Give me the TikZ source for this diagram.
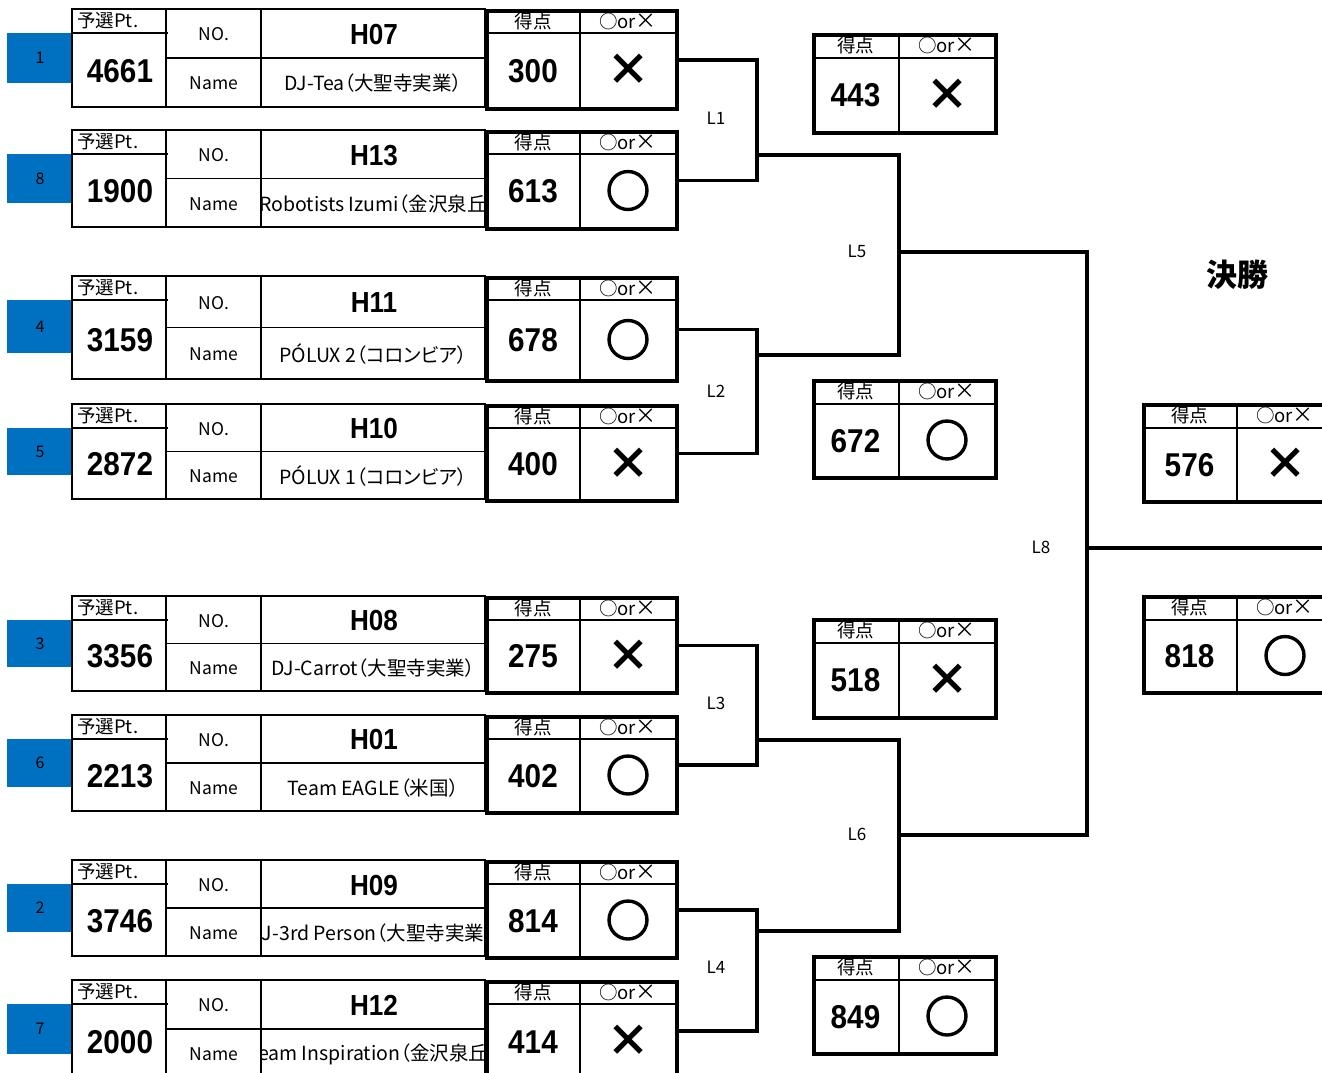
\documentclass[tikz,border=0pt]{standalone}
\usepackage{fontspec}
\setmainfont{Noto Sans CJK JP}[CharacterWidth=AlternateProportional]
\newfontfamily\numf{Liberation Sans}[FakeStretch=0.9]
\newfontfamily\markf{Noto Sans CJK JP}[FakeBold=4]
\definecolor{seedblue}{HTML}{0070C0}
\newcommand\mO{{\markf ○}}
\newcommand\mX{{\bfseries ×}}
\newcommand\okhead{{\fontsize{18.5}{18.5}\selectfont ○}or{\fontsize{21}{21}\selectfont ×}}
\tikzset{
  cellthin/.style={line width=1.6pt},
  cellouter/.style={line width=2.4pt},
  hdrline/.style={line width=1.8pt},
  conn/.style={line width=3.4pt},
  boxthick/.style={draw, line width=3.6pt, inner sep=0pt, anchor=north west},
  seedfill/.style={fill=seedblue},
  seedtxt/.style={font=\fontsize{16}{16}\selectfont, inner sep=0pt},
  pthead/.style={font=\fontsize{18.5}{18.5}\selectfont, inner sep=0pt, anchor=west},
  bignum/.style={font=\numf\bfseries\fontsize{33}{33}\selectfont, inner sep=0pt},
  hnum/.style={font=\numf\bfseries\fontsize{29}{29}\selectfont, inner sep=0pt},
  lbl/.style={font=\fontsize{17.5}{17.5}\selectfont, inner sep=0pt},
  tname/.style={font=\fontsize{19.5}{19.5}\selectfont, inner sep=0pt},
  shead/.style={font=\fontsize{18.5}{18.5}\selectfont, inner sep=0pt},
  okmark/.style={font=\fontsize{44}{44}\selectfont, inner sep=0pt},
  llabel/.style={font=\fontsize{17}{17}\selectfont, inner sep=0pt},
  title/.style={font=\bfseries\fontsize{31}{31}\selectfont, inner sep=0pt},
}
% id, top, bottom, seed, pt, H, name, score, mark
\newcommand\teamblk[9]{%
  \pgfmathsetmacro\tT{#2}\pgfmathsetmacro\tB{#3}%
  \pgfmathsetmacro\tH{\tT+24}%
  \pgfmathsetmacro\tM{(\tT+\tB)/2}%
  \pgfmathsetmacro\tBL{\tT+0.75*(\tB-\tT)}%
  \pgfmathsetmacro\tHt{\tB-\tT}%
  \fill[seedfill] (7,\tH) rectangle (72,\tBL);
  \node[seedtxt] (seed#1) at (40,{(\tH+\tBL)/2}) {#4};
  \draw[cellthin] (72,\tH) -- (168,\tH);
  \draw[cellthin] (166,\tM) -- (485,\tM);
  \draw[cellthin] (166,\tT) -- (166,\tB) (261,\tT) -- (261,\tB);
  \draw[cellouter] (72,\tT) rectangle (485,\tB);
  \node[pthead] (ph#1) at (77,{(\tT+\tH)/2}) {予選Pt.};
  \node[bignum] (pv#1) at (120,{(\tH+\tB)/2+1}) {#5};
  \node[lbl] (no#1) at (214,{(\tT+\tM)/2+1}) {NO.};
  \node[lbl] (nm#1) at (214,{(\tM+\tB)/2+1}) {Name};
  \node[hnum] (h#1) at (374,{(\tT+\tM)/2+1}) {#6};
  \begin{scope}
    \clip (262,\tM) rectangle (484,\tB);
    \node[tname] (tn#1) at (373,{(\tM+\tB)/2+1}) {#7};
  \end{scope}
  \node[boxthick, minimum width=190pt, minimum height=\tHt pt] (s#1) at (485,\tT) {};
  \draw[hdrline] (485,\tH) -- (675,\tH);
  \draw[cellthin] (580,\tT) -- (580,\tB);
  \node[shead] (sh#1) at (533,{(\tT+\tH)/2}) {得点};
  \node[shead] (mh#1) at (628,{(\tT+\tH)/2}) {\okhead};
  \node[bignum] (sv#1) at (533,{(\tH+\tB)/2+1}) {#8};
  \node[okmark] (mk#1) at (628,{(\tH+\tB)/2}) {#9};
}
% id, left, top, bottom, width, divider, score, mark
\newcommand\resbox[8]{%
  \pgfmathsetmacro\rL{#2}\pgfmathsetmacro\rT{#3}\pgfmathsetmacro\rB{#4}%
  \pgfmathsetmacro\rH{\rT+25}\pgfmathsetmacro\rHt{\rB-\rT}%
  \pgfmathsetmacro\rD{#6}%
  \node[boxthick, minimum width=#5pt, minimum height=\rHt pt] (r#1) at (\rL,\rT) {};
  \draw[hdrline] (\rL,\rH) -- ({\rL+#5},\rH);
  \draw[cellthin] (\rD,\rT) -- (\rD,\rB);
  \node[shead] (rh#1) at ({(\rL+\rD)/2},{(\rT+\rH)/2}) {得点};
  \node[shead] (rm#1) at ({\rD+48},{(\rT+\rH)/2}) {\okhead};
  \node[bignum] (rv#1) at ({(\rL+\rD)/2},{(\rH+\rB)/2+1}) {#7};
  \node[okmark] (rk#1) at ({\rD+48},{(\rH+\rB)/2}) {#8};
}
\begin{document}
\begin{tikzpicture}[x=1pt,y=-1pt]
\useasboundingbox (0,0) rectangle (1322,1072);
\clip (0,0) rectangle (1322,1072);

\teamblk{1}{9}{107}{1}{4661}{H07}{DJ-Tea（大聖寺実業）}{300}{\mX}
\teamblk{8}{130}{227}{8}{1900}{H13}{Robotists Izumi（金沢泉丘}{613}{\mO}
\teamblk{4}{276}{379}{4}{3159}{H11}{PÓLUX 2（コロンビア）}{678}{\mO}
\teamblk{5}{404}{499}{5}{2872}{H10}{PÓLUX 1（コロンビア）}{400}{\mX}
\teamblk{3}{596}{691}{3}{3356}{H08}{DJ-Carrot（大聖寺実業）}{275}{\mX}
\teamblk{6}{715}{811}{6}{2213}{H01}{Team EAGLE（米国）}{402}{\mO}
\teamblk{2}{860}{956}{2}{3746}{H09}{J-3rd Person（大聖寺実業}{814}{\mO}
\teamblk{7}{980}{1078}{7}{2000}{H12}{eam Inspiration（金沢泉丘}{414}{\mX}

\resbox{a}{812}{33}{131}{182}{899}{443}{\mX}
\resbox{b}{812}{379}{476}{182}{899}{672}{\mO}
\resbox{c}{812}{618}{716}{182}{899}{518}{\mX}
\resbox{d}{812}{955}{1052}{182}{899}{849}{\mO}
\resbox{e}{1142}{403}{500}{200}{1237}{576}{\mX}
\resbox{f}{1142}{595}{691}{200}{1237}{818}{\mO}

\node[title] (final) at (1237,275) {決勝};

% bracket joints
\coordinate (j1) at (757,155);
\coordinate (j2) at (757,355);
\coordinate (j3) at (757,740);
\coordinate (j4) at (757,931);
\coordinate (j5) at (899,252);
\coordinate (j6) at (899,835);
\coordinate (j8) at (1087,548);
\coordinate (jend) at (1330,548);

\draw[conn] (s1.east) -| (j1) |- (s8.east);
\draw[conn] (s4.east) -| (j2) |- (s5.east);
\draw[conn] (s3.east) -| (j3) |- (s6.east);
\draw[conn] (s2.east) -| (j4) |- (s7.east);
\draw[conn] (j1) -| (j5) |- (j2);
\draw[conn] (j3) -| (j6) |- (j4);
\draw[conn] (j5) -| (j8) |- (j6);
\draw[conn] (j8) -- (jend);

\node[llabel] (L1) at (716,118) {L1};
\node[llabel] (L2) at (716,391) {L2};
\node[llabel] (L3) at (716,703) {L3};
\node[llabel] (L4) at (716,967) {L4};
\node[llabel] (L5) at (857,251) {L5};
\node[llabel] (L6) at (857,834) {L6};
\node[llabel] (L8) at (1041,547) {L8};
\end{tikzpicture}
\end{document}
